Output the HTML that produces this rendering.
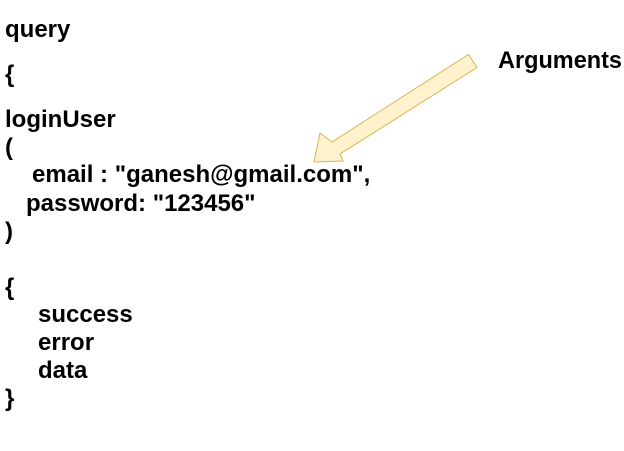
<!DOCTYPE html>
<html><head><meta charset="utf-8"><style>
html,body{margin:0;padding:0;background:#fff;width:624px;height:451px;overflow:hidden}
svg text{font-family:"Liberation Sans",Arial,sans-serif;font-weight:bold;font-size:24px;fill:#000}
</style></head><body>
<svg width="624" height="451" viewBox="0 0 624 451" xmlns="http://www.w3.org/2000/svg">
<polygon points="468.5,54.5 477,67.5 340,154 343,161 314,162 320,133 332,142" fill="#fff2cc" stroke="#d6b656" stroke-width="1"/>
<text x="5" y="37">query</text>
<text x="5" y="82">{</text>
<text x="5" y="127">loginUser</text>
<text x="5" y="155">(</text>
<text x="32" y="182">email : "ganesh@gmail.com",</text>
<text x="26" y="211">password: "123456"</text>
<text x="5" y="239">)</text>
<text x="5" y="295">{</text>
<text x="38" y="322">success</text>
<text x="38" y="350">error</text>
<text x="38" y="378">data</text>
<text x="5" y="406">}</text>
<text x="498" y="68" textLength="124" lengthAdjust="spacingAndGlyphs">Arguments</text>
</svg>
</body></html>
